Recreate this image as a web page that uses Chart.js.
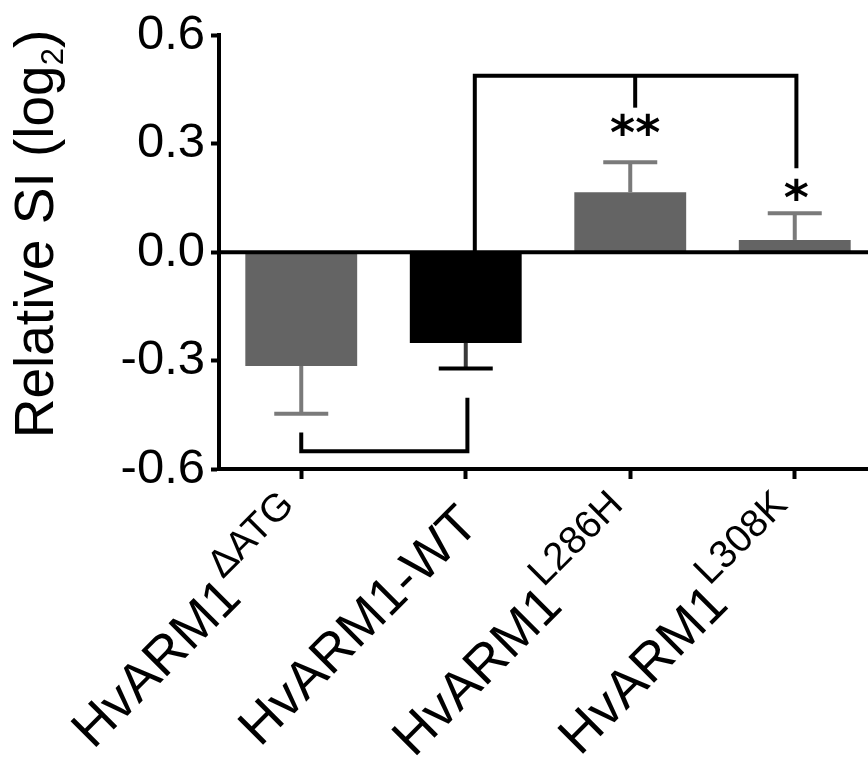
<!DOCTYPE html>
<html>
<head>
<meta charset="utf-8">
<script src="https://cdn.jsdelivr.net/npm/chart.js@4"></script>
<style>
html,body{margin:0;padding:0;background:#fff;overflow:hidden;}
#wrap{width:880px;height:763px;position:relative;}
</style>
</head>
<body>
<div id="wrap"><canvas id="c"></canvas></div>
<script>
// ---- data ----
const labelMain = ['HvARM1', 'HvARM1-WT', 'HvARM1', 'HvARM1'];
const labelSup = ['\u0394ATG', '', 'L286H', 'L308K'];
const categories = labelMain.map((m, i) => m + labelSup[i]);
const meanValues = [-0.315, -0.251, 0.166, 0.034];
const semValues = [0.132, 0.071, 0.083, 0.074];
const yTickValues = [-0.6, -0.3, 0.0, 0.3, 0.6];
const yTickLabels = ['-0.6', '-0.3', '0.0', '0.3', '0.6'];
const sigLabels = ['**', '*'];
const sigX = [2.03, 3.01];
const sigY = [0.354, 0.173];
// bottom bracket: from category 0 to 1
const bracketLowX = [0, 1.01];
const bracketLowY = [-0.499, -0.551, -0.403];
// top bracket: from WT to L308K with drop to L286H
const bracketTopX = [1.055, 2.03, 3.01];
const bracketTopY = [0.488, 0.0, 0.400, 0.232];

const barColors = ['#646464', '#000000', '#646464', '#646464'];
const errStemColors = ['#7a7a7a', '#3a3a3a', '#7a7a7a', '#7a7a7a'];
const errCapColors = ['#7a7a7a', '#000000', '#7a7a7a', '#7a7a7a'];
const FONT = '"Liberation Sans", Arial, Helvetica, sans-serif';

const overlay = {
  id: 'overlay',
  afterDatasetsDraw(chart) {
    const {ctx, chartArea, scales} = chart;
    const x = scales.x, y = scales.y;
    ctx.save();
    ctx.lineCap = 'butt';
    ctx.lineJoin = 'miter';
    // zero line
    ctx.strokeStyle = '#000';
    ctx.lineWidth = 4;
    const y0 = y.getPixelForValue(0);
    ctx.beginPath();
    ctx.moveTo(chartArea.left, y0);
    ctx.lineTo(chartArea.right, y0);
    ctx.stroke();
    // error bars
    meanValues.forEach((v, i) => {
      const end = v + (v < 0 ? -1 : 1) * semValues[i];
      const cx = x.getPixelForValue(i);
      const ya = y.getPixelForValue(v), yb = y.getPixelForValue(end);
      ctx.lineWidth = 4;
      ctx.strokeStyle = errStemColors[i];
      ctx.beginPath(); ctx.moveTo(cx, ya); ctx.lineTo(cx, yb); ctx.stroke();
      ctx.strokeStyle = errCapColors[i];
      ctx.beginPath(); ctx.moveTo(cx - 27, yb); ctx.lineTo(cx + 27, yb); ctx.stroke();
    });
    // brackets
    ctx.strokeStyle = '#000';
    ctx.lineWidth = 4;
    ctx.beginPath();
    ctx.moveTo(x.getPixelForValue(bracketLowX[0]), y.getPixelForValue(bracketLowY[0]));
    ctx.lineTo(x.getPixelForValue(bracketLowX[0]), y.getPixelForValue(bracketLowY[1]));
    ctx.lineTo(x.getPixelForValue(bracketLowX[1]), y.getPixelForValue(bracketLowY[1]));
    ctx.lineTo(x.getPixelForValue(bracketLowX[1]), y.getPixelForValue(bracketLowY[2]));
    ctx.stroke();
    ctx.beginPath();
    ctx.moveTo(x.getPixelForValue(bracketTopX[0]), y.getPixelForValue(bracketTopY[1]));
    ctx.lineTo(x.getPixelForValue(bracketTopX[0]), y.getPixelForValue(bracketTopY[0]));
    ctx.lineTo(x.getPixelForValue(bracketTopX[2]), y.getPixelForValue(bracketTopY[0]));
    ctx.lineTo(x.getPixelForValue(bracketTopX[2]), y.getPixelForValue(bracketTopY[3]));
    ctx.stroke();
    ctx.beginPath();
    ctx.moveTo(x.getPixelForValue(bracketTopX[1]), y.getPixelForValue(bracketTopY[0]));
    ctx.lineTo(x.getPixelForValue(bracketTopX[1]), y.getPixelForValue(bracketTopY[2]));
    ctx.stroke();
    // asterisks
    ctx.fillStyle = '#000';
    ctx.font = 'bold 48px "DejaVu Sans", sans-serif';
    ctx.textAlign = 'center';
    ctx.textBaseline = 'alphabetic';
    sigLabels.forEach((s, i) => {
      const m = ctx.measureText(s);
      const cy = y.getPixelForValue(sigY[i]);
      const base = cy + (m.actualBoundingBoxAscent - m.actualBoundingBoxDescent) / 2;
      ctx.fillText(s, x.getPixelForValue(sigX[i]), base);
    });
    ctx.restore();
  },
  afterDraw(chart) {
    const {ctx, chartArea, scales} = chart;
    const x = scales.x;
    ctx.save();
    ctx.fillStyle = '#000';
    ctx.textBaseline = 'alphabetic';
    ctx.textAlign = 'left';
    // x category labels, rotated 45deg with superscripts
    const mainFont = '53px ' + FONT, supFont = '39px ' + FONT;
    labelMain.forEach((m, i) => {
      const tx = x.getPixelForValue(i);
      ctx.save();
      ctx.translate(tx + 15, chartArea.bottom + 58);
      ctx.rotate(-Math.PI / 4);
      ctx.font = mainFont;
      const wm = ctx.measureText(m).width;
      ctx.font = supFont;
      const ws = labelSup[i] ? ctx.measureText(labelSup[i]).width : 0;
      ctx.font = mainFont;
      ctx.fillText(m, -(wm + ws), 0);
      if (labelSup[i]) {
        ctx.font = supFont;
        ctx.fillText(labelSup[i], -ws, -29);
      }
      ctx.restore();
    });
    // y axis title with subscript
    ctx.save();
    ctx.translate(53, 234);
    ctx.rotate(-Math.PI / 2);
    const t1 = 'Relative SI (log', t2 = '2', t3 = ')';
    const f1 = '55px ' + FONT, f2 = '31px ' + FONT;
    ctx.font = f1; const w1 = ctx.measureText(t1).width, w3 = ctx.measureText(t3).width;
    ctx.font = f2; const w2 = ctx.measureText(t2).width;
    let sx = -(w1 + w2 + w3) / 2;
    ctx.font = f1; ctx.fillText(t1, sx, 0); sx += w1;
    ctx.font = f2; ctx.fillText(t2, sx, 10); sx += w2;
    ctx.font = f1; ctx.fillText(t3, sx, 0);
    ctx.restore();
    ctx.restore();
  }
};

new Chart(document.getElementById('c'), {
  type: 'bar',
  data: {
    labels: categories,
    datasets: [{
      data: meanValues,
      backgroundColor: barColors,
      borderWidth: 0,
      barPercentage: 0.68,
      categoryPercentage: 1.0
    }]
  },
  options: {
    responsive: true,
    maintainAspectRatio: false,
    animation: false,
    layout: {padding: {top: 32, right: 3, left: 0, bottom: 0}},
    plugins: {legend: {display: false}, tooltip: {enabled: false}, title: {display: false}},
    scales: {
      x: {
        type: 'category',
        offset: true,
        grid: {offset: false, drawOnChartArea: false, drawTicks: true, tickLength: 10, tickWidth: 4, tickColor: '#000'},
        border: {display: true, color: '#000', width: 4},
        ticks: {display: false},
        afterFit(scale) { scale.height = 294; }
      },
      y: {
        min: -0.6, max: 0.6,
        grid: {drawOnChartArea: false, drawTicks: true, tickLength: 8, tickWidth: 4, tickColor: '#000'},
        border: {display: true, color: '#000', width: 4},
        afterBuildTicks(scale) { scale.ticks = yTickValues.map(v => ({value: v})); },
        ticks: {
          color: '#000',
          padding: 6,
          font: {family: FONT, size: 49},
          callback: (v, i) => yTickLabels[i]
        },
        afterFit(scale) { scale.width = 219; }
      }
    }
  },
  plugins: [overlay]
});
</script>
</body>
</html>
